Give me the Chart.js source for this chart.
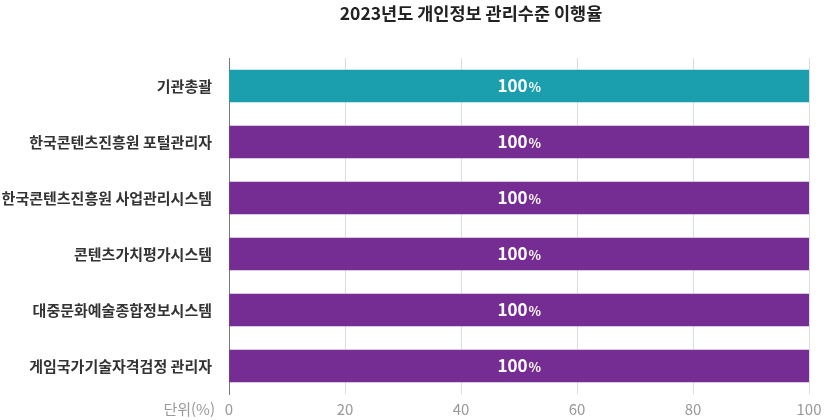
<!DOCTYPE html>
<html lang="ko">
<head>
<meta charset="utf-8">
<script src="https://cdn.jsdelivr.net/npm/chart.js@4/dist/chart.umd.min.js"></script>
<style>
    html, body { margin: 0; padding: 0; background: #fff; }
    #wrap { width: 824px; height: 420px; position: relative; }
</style>
</head>
<body>
<div id="wrap"><canvas id="rateChart"></canvas></div>
<script>
// 차트 데이터
const chartTitle = '2023년도 개인정보 관리수준 이행율';
const categories = [
    '기관총괄',
    '한국콘텐츠진흥원 포털관리자',
    '한국콘텐츠진흥원 사업관리시스템',
    '콘텐츠가치평가시스템',
    '대중문화예술종합정보시스템',
    '게임국가기술자격검정 관리자'
];
const rates = [100, 100, 100, 100, 100, 100];
const barColors = ['#1b9fae', '#762d93', '#762d93', '#762d93', '#762d93', '#762d93'];
const unitLabel = '단위(%)';

const FONT = "'Noto Sans CJK KR', 'Noto Sans', sans-serif";

// 제목, 단위, 막대 값 표시
const annotate = {
    id: 'annotate',
    afterDatasetsDraw(chart) {
        const ctx = chart.ctx;
        const xs = chart.scales.x;
        ctx.save();

        ctx.fillStyle = '#222';
        ctx.font = `bold 17.5px ${FONT}`;
        ctx.textAlign = 'center';
        ctx.textBaseline = 'middle';
        ctx.fillText(chartTitle, 471, 13);

        ctx.fillStyle = '#999';
        ctx.font = `15px ${FONT}`;
        ctx.textAlign = 'right';
        ctx.fillText(unitLabel, 215, xs.top + 15);

        const meta = chart.getDatasetMeta(0);
        meta.data.forEach((bar, i) => {
            const cx = (bar.base + bar.x) / 2;
            const num = String(rates[i]);
            ctx.font = `bold 17px ${FONT}`;
            const w1 = ctx.measureText(num).width;
            ctx.font = `bold 13px ${FONT}`;
            const w2 = ctx.measureText('%').width;
            const left = cx - (w1 + w2 + 1) / 2;
            ctx.fillStyle = '#fff';
            ctx.textAlign = 'left';
            ctx.textBaseline = 'alphabetic';
            ctx.font = `bold 17px ${FONT}`;
            ctx.fillText(num, left, bar.y + 6);
            ctx.font = `bold 13px ${FONT}`;
            ctx.fillText('%', left + w1 + 1, bar.y + 6);
        });
        ctx.restore();
    }
};

new Chart(document.getElementById('rateChart'), {
    type: 'bar',
    data: {
        labels: categories,
        datasets: [{
            data: rates,
            backgroundColor: barColors,
            barThickness: 32
        }]
    },
    options: {
        indexAxis: 'y',
        responsive: true,
        maintainAspectRatio: false,
        animation: false,
        layout: { padding: { top: 58, right: 0, left: 0, bottom: 0 } },
        plugins: {
            legend: { display: false },
            tooltip: { enabled: false }
        },
        scales: {
            x: {
                min: 0,
                max: 100,
                ticks: {
                    stepSize: 20,
                    color: '#999',
                    font: { family: FONT, size: 15 },
                    padding: 6
                },
                grid: {
                    color: '#dddddd',
                    drawTicks: false
                },
                border: { display: false },
                afterFit(scale) {
                    scale.height = 23;
                    scale.paddingLeft = 0;
                    scale.paddingRight = 15;
                }
            },
            y: {
                ticks: {
                    color: '#333',
                    font: { family: FONT, size: 15, weight: 'bold' },
                    padding: 17
                },
                grid: { display: false, drawTicks: false },
                border: { display: true, color: '#777', width: 1 },
                afterFit(scale) { scale.width = 229; }
            }
        }
    },
    plugins: [annotate]
});
</script>
</body>
</html>
